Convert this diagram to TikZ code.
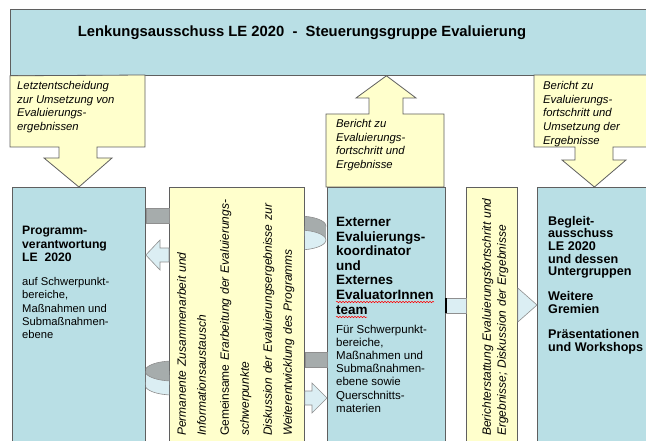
\documentclass[tikz,border=0pt]{standalone}
\usepackage{fontspec}
\setmainfont{Liberation Sans}
\usetikzlibrary{decorations.pathmorphing}

\definecolor{boxblue}{RGB}{185,223,229}
\definecolor{boxyellow}{RGB}{255,255,204}
\definecolor{bandgray}{RGB}{166,172,172}
\definecolor{flowblue}{RGB}{219,238,243}
\definecolor{rimgray}{RGB}{95,95,95}

\tikzset{
  bluebox/.style={draw=rimgray, line width=0.8pt, fill=boxblue, inner sep=0pt, anchor=north west, minimum height=270pt},
  yellowbox/.style={draw=rimgray, line width=0.8pt, fill=boxyellow, inner sep=0pt, anchor=north west, minimum height=270pt},
  callout/.style={draw=rimgray, line width=0.8pt, fill=boxyellow},
  flow/.style={draw=rimgray!70, line width=0.6pt, fill=flowblue},
  band/.style={draw=rimgray!70, line width=0.6pt, fill=bandgray},
  words/.style={inner sep=0pt, anchor=north west, align=left},
  notetext/.style={words, font=\fontsize{11.3}{13.8}\selectfont\itshape},
  bodytext/.style={words, font=\fontsize{11.2}{13.4}\selectfont},
  headtext/.style={words, font=\fontsize{13.5}{14.6}\selectfont\bfseries},
  sidetext/.style={words, rotate=90, font=\fontsize{12}{20}\selectfont\itshape},
  wavy/.style={red, line width=0.5pt, decorate, decoration={snake, amplitude=0.7pt, segment length=3pt}}
}

\begin{document}
\begin{tikzpicture}[x=1pt, y=-1pt]
	\useasboundingbox (0,0) rectangle (646,441);

	% steering committee on top
	\node[bluebox, minimum width=650pt, minimum height=66pt] (lenkung) at (10,9) {};
	\node[inner sep=0pt, font=\fontsize{14.8}{18}\selectfont\bfseries] (titel) at (302,33)
		{Lenkungsausschuss LE 2020\ \ -\ \ Steuerungsgruppe Evaluierung};

	% lower row of boxes
	\node[bluebox, minimum width=133pt] (prog) at (12,187) {};
	\node[yellowbox, minimum width=135pt] (zus) at (169,187) {};
	\node[bluebox, minimum width=118pt] (extern) at (327,187) {};
	\node[yellowbox, minimum width=51pt] (bericht) at (466,187) {};
	\node[bluebox, minimum width=114pt] (begleit) at (537,187) {};

	% callout arrows from and to the committee
	\draw[callout] (lenkung.south west) -- (145,75) -- (145,147) -- (97,147) -- (97,158) -- (112,158)
		-- (prog.north) -- (44,158) -- (59,158) -- (59,147) -- (10,147) -- cycle;
	\draw[callout] (326,187) -- (326,114) -- (369,114) -- (369,98) -- (356,98)
		-- (extern.north |- lenkung.south) -- (416,98) -- (403,98) -- (403,114) -- (444,114) -- (444,187) -- cycle;
	\draw[callout] (534,75) -- (660,75) -- (660,147) -- (613,147) -- (613,160) -- (626,160)
		-- (begleit.north) -- (562,160) -- (575,160) -- (575,147) -- (534,147) -- cycle;

	\node[notetext] (note1) at (17,81) {Letztentscheidung\\zur Umsetzung von\\Evaluierungs-\\ergebnissen};
	\node[notetext] (note2) at (336,119) {Bericht zu\\Evaluierungs-\\fortschritt und\\Ergebnisse};
	\node[notetext] (note3) at (543,81) {Bericht zu\\Evaluierungs-\\fortschritt und\\Umsetzung der\\Ergebnisse};

	% links between prog and zus
	\draw[band] (prog.east |- 0,208) rectangle (zus.west |- 0,223);
	\draw[flow] (zus.west |- 0,248) -- (160,248) -- (160,240) -- (prog.east |- 0,255)
		-- (160,270) -- (160,262) -- (zus.west |- 0,262) -- cycle;
	\begin{scope}
		\clip (prog.east |- 0,340) rectangle (zus.west |- 0,420);
		\draw[flow] (173,385) ellipse[x radius=28, y radius=10];
		\fill[flowblue] (145,371) rectangle (201,385);
		\draw[band] (173,371) ellipse[x radius=28, y radius=10];
	\end{scope}

	% links between zus and extern
	\begin{scope}
		\clip (zus.east |- 0,200) rectangle (extern.west |- 0,270);
		\draw[band] (298,226) ellipse[x radius=28, y radius=10];
		\fill[bandgray] (270,226) rectangle (326,240);
		\draw[flow] (298,240) ellipse[x radius=28, y radius=10];
	\end{scope}
	\draw[band] (zus.east |- 0,352) rectangle (extern.west |- 0,367);
	\draw[flow] (zus.east |- 0,391) -- (312,391) -- (312,383) -- (extern.west |- 0,398)
		-- (312,413) -- (312,405) -- (zus.east |- 0,405) -- cycle;

	% links on to the monitoring committee
	\draw[flow] (extern.east |- 0,298) rectangle (bericht.west |- 0,313);
	\draw[line width=1.4pt] (extern.east |- 0,298) -- (extern.east |- 0,313);
	\draw[flow] (bericht.east |- 0,288) -- (begleit.west |- 0,305) -- (bericht.east |- 0,322) -- cycle;

	% box texts
	\node[headtext, font=\fontsize{12.2}{13.6}\selectfont\bfseries] (progkopf) at (22,226)
		{Programm-\\verantwortung\\LE\ \ 2020};
	\node[bodytext] (progtxt) at (22,277) {auf Schwerpunkt-\\bereiche,\\Maßnahmen und\\Submaßnahmen-\\ebene};
	\node[headtext] (externkopf) at (336,217) {Externer\\Evaluierungs-\\koordinator\\und\\Externes\\EvaluatorInnen\\team};
	\node[bodytext, font=\fontsize{11.5}{13.1}\selectfont] (externtxt) at (336,325)
		{Für Schwerpunkt-\\bereiche,\\Maßnahmen und\\Submaßnahmen-\\ebene sowie\\Querschnitts-\\materien};
	\node[headtext, font=\fontsize{12.6}{12.6}\selectfont\bfseries] (begleittxt) at (548,216)
		{Begleit-\\ausschuss\\LE 2020\\und dessen\\Untergruppen\\[12.6pt]Weitere\\Gremien\\[12.6pt]Präsentationen\\und Workshops};

	% spell check marks
	\draw[wavy] (336,302) -- (434,302);
	\draw[wavy] (336,317) -- (367,317);

	% rotated texts
	\node[sidetext, text width=236pt] (zustxt) at (177,436)
		{\makebox[180pt][s]{Permanente Zusammenarbeit und}\\Informationsaustausch\\[3pt]
		\makebox[236pt][s]{\upshape Gemeinsame \itshape Erarbeitung der Evaluierungs-}\\schwerpunkte\\[3pt]
		\makebox[236pt][s]{Diskussion der Evaluierungsergebnisse zur}\\Weiterentwicklung des Programms};
	\node[sidetext, text width=236pt, font=\fontsize{12}{15}\selectfont\itshape] (berichttxt) at (482,436)
		{\makebox[236pt][s]{Berichterstattung Evaluierungsfortschritt und}\\
		\makebox[236pt][s]{Ergebnisse; Diskussion der Ergebnisse}};

\end{tikzpicture}
\end{document}
